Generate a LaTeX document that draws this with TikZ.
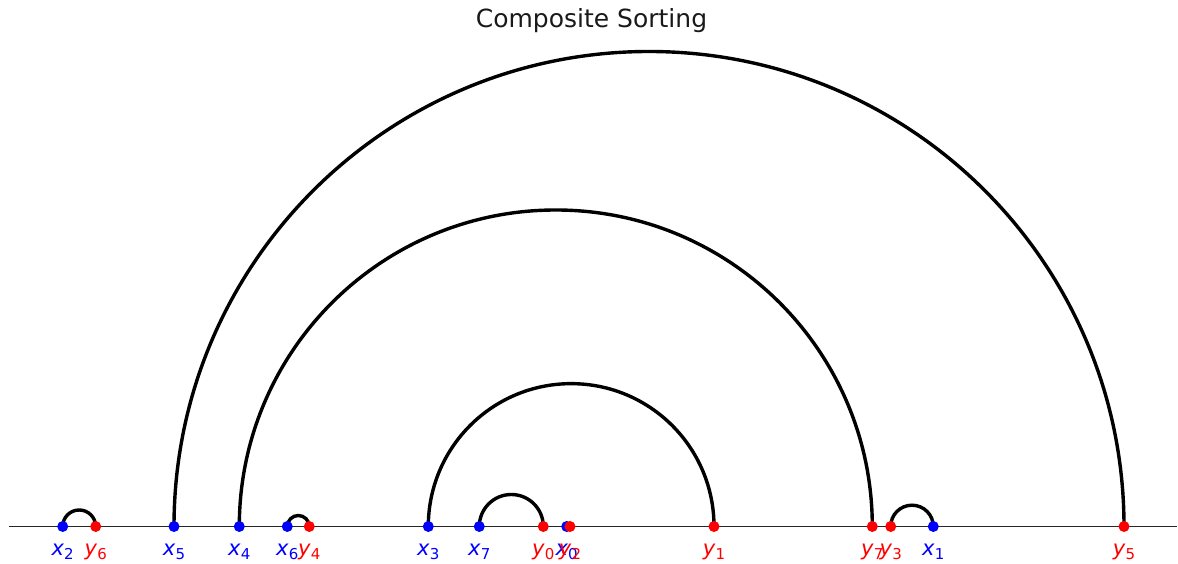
\documentclass[tikz,border=0pt]{standalone}
\usepackage{fontspec}
\setmainfont{DejaVu Sans}
\usetikzlibrary{calc}
\newcommand{\ptlab}[2]{\textit{#1}\raisebox{-3.5pt}{\fontsize{15}{15}\selectfont #2}}

\begin{document}
\begin{tikzpicture}[x=1pt,y=1pt,
    xdot/.style={circle, fill=blue, inner sep=0pt, minimum size=11pt},
    ydot/.style={circle, fill=red, inner sep=0pt, minimum size=11pt},
    lab/.style={anchor=base, inner sep=0pt, font=\fontsize{21}{21}\selectfont},
    bond/.style={line width=3.4pt, black}]
    \useasboundingbox (0,0) rectangle (1178,564);
    \node[anchor=base, font=\fontsize{25}{25}\selectfont, text=black!90] (title) at (591.5,536) {Composite Sorting};
    \coordinate (axl) at (9,37.5);
    \coordinate (axr) at (1177,37.5);
    \draw[line width=1.9pt, black!85] (axl) -- (axr);
    \foreach \i/\px in {0/566.7,1/933.3,2/62.7,3/428.3,4/239.3,5/174,6/287.3,7/479.3}
        \coordinate (x\i) at (\px,37.5);
    \foreach \i/\px in {0/543.3,1/714,2/570,3/890.7,4/309.3,5/1124,6/95.7,7/872.3}
        \coordinate (y\i) at (\px,37.5);
    \foreach \a/\b in {x2/y6,x5/y5,x4/y7,x6/y4,x3/y1,x7/y0,y3/x1,x0/y2}
        \draw[bond] let \p1=(\a), \p2=(\b) in (\a) arc[start angle=180, end angle=0, radius={(\x2-\x1)/2}];
    \foreach \i in {0,...,7} {
        \node[xdot] (dx\i) at (x\i) {};
        \node[lab, text=blue] (lx\i) at ($(x\i)+(0,-29.2)$) {\ptlab{x}{\i}};
    }
    \foreach \i in {0,...,7} {
        \node[ydot] (dy\i) at (y\i) {};
        \node[lab, text=red] (ly\i) at ($(y\i)+(0,-29.2)$) {\ptlab{y}{\i}};
    }
\end{tikzpicture}
\end{document}
